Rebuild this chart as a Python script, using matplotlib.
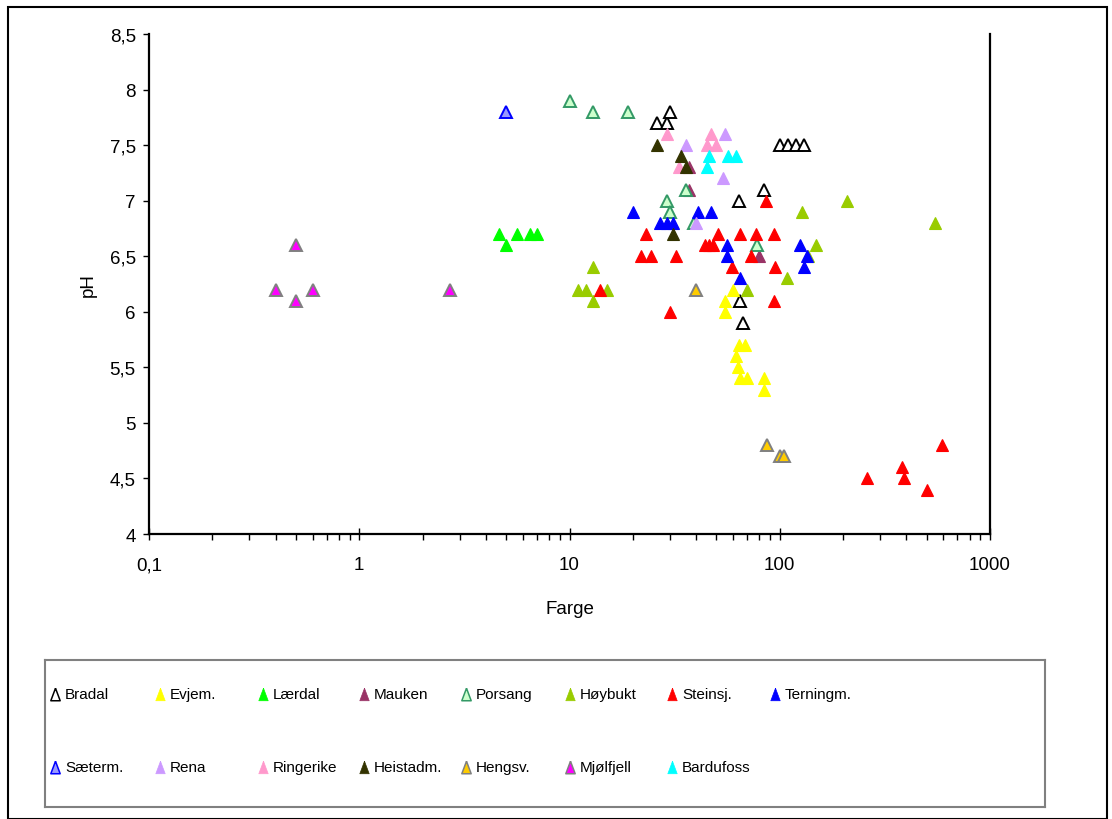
import matplotlib
matplotlib.use("Agg")
import matplotlib.pyplot as plt
from matplotlib.ticker import FixedLocator, FixedFormatter, LogLocator, NullFormatter
from matplotlib.patches import Rectangle

plt.rcParams['font.family'] = ['Liberation Sans', 'DejaVu Sans']

# ---------------- data ----------------
series_names = ["Bradal", "Evjem.", "Lærdal", "Mauken", "Porsang", "Høybukt", "Steinsj.",
                "Terningm.", "Sæterm.", "Rena", "Ringerike", "Heistadm.", "Hengsv.",
                "Mjølfjell", "Bardufoss"]

bradal_x = [26, 29, 30, 64, 84, 100, 110, 120, 130, 65, 67]
bradal_y = [7.7, 7.7, 7.8, 7.0, 7.1, 7.5, 7.5, 7.5, 7.5, 6.1, 5.9]

evjem_x = [55, 55, 60, 62, 63, 64, 65, 68, 70, 84, 84]
evjem_y = [6.0, 6.1, 6.2, 5.6, 5.5, 5.7, 5.4, 5.7, 5.4, 5.4, 5.3]

laerdal_x = [4.6, 5.0, 5.6, 6.5, 7.0]
laerdal_y = [6.7, 6.6, 6.7, 6.7, 6.7]

mauken_x = [37, 37, 80]
mauken_y = [7.3, 7.1, 6.5]

porsang_x = [10, 13, 19, 29, 30, 36, 39, 78]
porsang_y = [7.9, 7.8, 7.8, 7.0, 6.9, 7.1, 6.8, 6.6]

hoybukt_x = [11, 12, 13, 13, 15, 70, 108, 127, 137, 148, 210, 550]
hoybukt_y = [6.2, 6.2, 6.4, 6.1, 6.2, 6.2, 6.3, 6.9, 6.5, 6.6, 7.0, 6.8]

steinsj_x = [14, 22, 23, 24.5, 30, 32, 44, 46, 48, 51, 59, 65, 73, 77, 86, 94, 95, 94,
             260, 380, 390, 500, 590]
steinsj_y = [6.2, 6.5, 6.7, 6.5, 6.0, 6.5, 6.6, 6.6, 6.6, 6.7, 6.4, 6.7, 6.5, 6.7, 7.0, 6.7, 6.4, 6.1,
             4.5, 4.6, 4.5, 4.4, 4.8]

terningm_x = [20, 27, 29, 31, 41, 47, 56, 56, 65, 125, 135, 130]
terningm_y = [6.9, 6.8, 6.8, 6.8, 6.9, 6.9, 6.6, 6.5, 6.3, 6.6, 6.5, 6.4]

saeterm_x = [5.0]
saeterm_y = [7.8]

rena_x = [36, 40, 54, 55]
rena_y = [7.5, 6.8, 7.2, 7.6]

ringerike_x = [29, 33, 45, 47, 50]
ringerike_y = [7.6, 7.3, 7.5, 7.6, 7.5]

heistadm_x = [26, 31, 34, 36]
heistadm_y = [7.5, 6.7, 7.4, 7.3]

hengsv_x = [40, 87, 100, 105]
hengsv_y = [6.2, 4.8, 4.7, 4.7]

mjolfjell_x = [0.4, 0.5, 0.5, 0.6, 2.7]
mjolfjell_y = [6.2, 6.6, 6.1, 6.2, 6.2]

bardufoss_x = [45, 46, 57, 62]
bardufoss_y = [7.3, 7.4, 7.4, 7.4]

xs = [bradal_x, evjem_x, laerdal_x, mauken_x, porsang_x, hoybukt_x, steinsj_x, terningm_x,
      saeterm_x, rena_x, ringerike_x, heistadm_x, hengsv_x, mjolfjell_x, bardufoss_x]
ys = [bradal_y, evjem_y, laerdal_y, mauken_y, porsang_y, hoybukt_y, steinsj_y, terningm_y,
      saeterm_y, rena_y, ringerike_y, heistadm_y, hengsv_y, mjolfjell_y, bardufoss_y]

x_ticks = [0.1, 1, 10, 100, 1000]
x_tick_labels = ["0,1", "1", "10", "100", "1000"]
y_ticks = [4, 4.5, 5, 5.5, 6, 6.5, 7, 7.5, 8, 8.5]
y_tick_labels = ["4", "4,5", "5", "5,5", "6", "6,5", "7", "7,5", "8", "8,5"]

# ---------------- styles ----------------
faces = ["#FFFFFF", "#FFFF00", "#00FF00", "#993366", "#CCFFCC", "#99CC00", "#FF0000",
         "#0000FF", "#9999FF", "#CC99FF", "#FF99CC", "#333300", "#FFCC00", "#FF00FF", "#00FFFF"]
edges = ["#000000", "#FFFF00", "#00FF00", "#993366", "#339966", "#99CC00", "#FF0000",
         "#0000FF", "#0000FF", "#CC99FF", "#FF99CC", "#333300", "#808080", "#808080", "#00FFFF"]
outlined = [True, False, False, False, True, False, False, False, True, False, False, False,
            True, True, False]

W, H = 1112, 820
fig = plt.figure(figsize=(W / 100, H / 100), dpi=100)

ax = fig.add_axes([149 / W, 1 - 535 / H, (990 - 149) / W, (535 - 35) / H])
for i in range(len(series_names)):
    ax.plot(xs[i], ys[i], linestyle='none', marker='^', markersize=9.3,
            markerfacecolor=faces[i], markeredgecolor=edges[i],
            markeredgewidth=1.4 if outlined[i] else 0.8, zorder=3 + i)

ax.set_xscale('log')
ax.set_xlim(0.1, 1000)
ax.set_ylim(4, 8.5)
ax.xaxis.set_major_locator(FixedLocator(x_ticks))
ax.xaxis.set_major_formatter(FixedFormatter(x_tick_labels))
ax.xaxis.set_minor_locator(LogLocator(base=10, subs=range(2, 10)))
ax.xaxis.set_minor_formatter(NullFormatter())
ax.yaxis.set_major_locator(FixedLocator(y_ticks))
ax.yaxis.set_major_formatter(FixedFormatter(y_tick_labels))

ax.spines['top'].set_visible(False)
for side in ['left', 'bottom', 'right']:
    ax.spines[side].set_linewidth(1.6)
    ax.spines[side].set_color('black')

ax.tick_params(axis='x', which='major', direction='inout', length=8, width=1.0,
               labelsize=13.5, pad=12)
ax.tick_params(axis='x', which='minor', direction='out', length=4, width=1.0)
ax.tick_params(axis='y', which='major', direction='out', length=4.5, width=1.0,
               labelsize=13.5, pad=5)
ax.set_xlabel("Farge", fontsize=13.5, labelpad=19)
ax.set_ylabel("pH", fontsize=13.5, labelpad=9)

# ---------------- legend (manual box) ----------------
lx0, ly0, lx1, ly1 = 45, 661, 1045, 808
lax = fig.add_axes([lx0 / W, 1 - ly1 / H, (lx1 - lx0) / W, (ly1 - ly0) / H])
lax.set_xlim(0, lx1 - lx0)
lax.set_ylim(ly1 - ly0, 0)
lax.set_xticks([])
lax.set_yticks([])
for s in lax.spines.values():
    s.set_color('#808080')
    s.set_linewidth(1.5)

col_x = [10, 115, 218, 319, 421, 525, 627, 730]
row_y = [34, 107]
for i, name in enumerate(series_names):
    r, c = divmod(i, 8)
    mx, my = col_x[c], row_y[r]
    lax.plot([mx], [my], linestyle='none', marker=[(0, 1), (-0.75, -1), (0.75, -1), (0, 1)],
             markersize=9, markerfacecolor=faces[i], markeredgecolor=edges[i],
             markeredgewidth=1.1 if outlined[i] else 0.5)
    lax.text(mx + 10, my, name, fontsize=11, va='center', ha='left')

# figure border
fig.patches.append(Rectangle((8 / W, 0), (1107 - 8) / W, 1 - 8 / H, transform=fig.transFigure,
                             fill=False, edgecolor='black', linewidth=1.5))

fig.savefig("out.png", dpi=100)
